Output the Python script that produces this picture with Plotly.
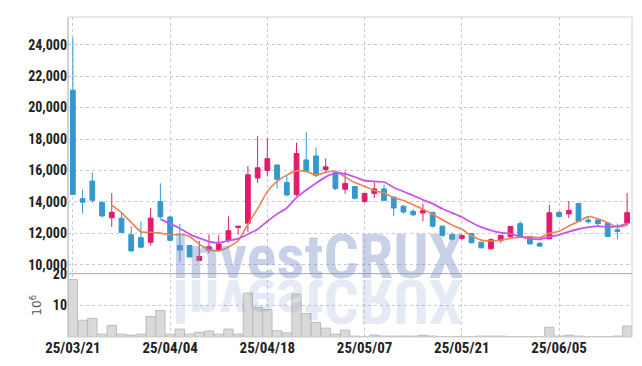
import plotly.graph_objects as go
import pandas as pd

dates = ["25/03/21","25/03/24","25/03/25","25/03/26","25/03/27","25/03/28","25/03/31","25/04/01","25/04/02","25/04/03",
         "25/04/04","25/04/07","25/04/08","25/04/09","25/04/10","25/04/11","25/04/14","25/04/15","25/04/16","25/04/17",
         "25/04/18","25/04/21","25/04/22","25/04/23","25/04/24","25/04/25","25/04/28","25/04/29","25/04/30","25/05/02",
         "25/05/07","25/05/08","25/05/09","25/05/12","25/05/13","25/05/14","25/05/15","25/05/16","25/05/19","25/05/20",
         "25/05/21","25/05/22","25/05/23","25/05/26","25/05/27","25/05/28","25/05/29","25/05/30","25/06/02","25/06/04",
         "25/06/05","25/06/09","25/06/10","25/06/11","25/06/12","25/06/13","25/06/16","25/06/17"]

opens = [21100,14210,15330,13960,12990,12970,11910,11725,11435,14020,
         13040,11230,11230,10270,10920,10900,11560,12375,12650,15520,
         16000,16350,15230,14480,16670,16920,16060,15870,14810,14980,
         14020,14540,14830,14310,13730,13400,13300,13340,12460,11920,
         11680,12000,11440,11020,11540,11790,12620,11770,11375,11650,
         13340,13240,13900,12850,12850,12660,12230,12660]
highs = [24450,14770,15870,14060,14560,13320,12450,12760,13630,15180,
         13100,12600,11270,11520,11940,11880,13080,12460,16270,18190,
         18040,16350,15690,17770,18460,17460,16770,15870,15940,14980,
         14580,15240,15090,14350,13800,13550,13900,13340,12460,12050,
         11960,12000,11460,11690,11900,12480,12790,11850,11440,13830,
         13400,14060,13900,13070,12950,12700,12620,14560]
lows = [14480,13260,13940,13010,12410,12060,10880,11060,11230,12950,
        11500,10170,10500,10270,10750,10830,11420,11920,12100,15210,
        15620,14850,14350,14370,15900,15580,15830,14750,14520,14150,
        13950,14250,14100,13100,13260,13080,12770,12370,11780,11550,
        11600,11380,11060,11020,11400,11700,11700,11310,11150,11650,
        13030,12970,12760,12620,12390,11800,11630,12500]
closes = [14480,13980,14100,13110,13340,12060,10880,11125,12970,13050,
          11560,10940,10500,10540,11150,11330,12170,12460,15730,16170,
          16750,15440,14440,17080,15960,15690,16230,14850,15170,14230,
          14540,14830,14100,13610,13360,13180,13470,12460,11880,11630,
          11860,11400,11080,11600,11880,12440,11750,11330,11190,13310,
          13070,13460,12760,12740,12620,11800,12125,13320]
volumes = [18.2,5.3,5.9,0.9,3.7,0.9,0.6,0.9,6.5,8.4,
           0.9,2.5,0.9,1.5,1.9,0.9,2.5,0.9,13.9,9.3,
           8.7,2.0,1.3,13.6,7.4,4.6,2.8,0.9,2.2,0.3,
           0.1,0.6,0.3,0.3,0.3,0.3,0.6,0.3,0.1,0.1,
           0.1,0.1,0.3,0.3,0.3,0.1,0.1,0.1,0.1,3.1,
           0.3,0.6,0.3,0.1,0.1,0.1,0.3,3.5]
tick_labels = ["25/03/21","25/04/04","25/04/18","25/05/07","25/05/21","25/06/05"]
price_ticks = [10000,12000,14000,16000,18000,20000,22000,24000]

close_s = pd.Series(closes)
ma5 = close_s.rolling(5).mean()
ma10 = close_s.rolling(10).mean()

UP = "#e31b6d"
DOWN = "#3399cc"
FONT = "Liberation Sans Narrow, Arial Narrow, Roboto Condensed, Roboto, sans-serif"
GRID = "#c6c9dc"

fig = go.Figure()
fig.add_trace(go.Bar(x=dates, y=volumes, xaxis="x2", yaxis="y2",
                     marker=dict(color="#d9d9d9", line=dict(color="#bdbdbd", width=1)),
                     hoverinfo="skip"))
fig.add_trace(go.Candlestick(x=dates, open=opens, high=highs, low=lows, close=closes,
                             xaxis="x", yaxis="y",
                             increasing=dict(line=dict(color=UP, width=1), fillcolor=UP),
                             decreasing=dict(line=dict(color=DOWN, width=1), fillcolor=DOWN),
                             whiskerwidth=0))
fig.add_trace(go.Scatter(x=dates, y=ma5, mode="lines", xaxis="x", yaxis="y",
                         line=dict(color="#ec8250", width=1.6, shape="spline", smoothing=0.5)))
fig.add_trace(go.Scatter(x=dates, y=ma10, mode="lines", xaxis="x", yaxis="y",
                         line=dict(color="#c855ec", width=1.8, shape="spline", smoothing=0.5)))

SPLIT = 0.198
fig.update_layout(
    width=642, height=366,
    margin=dict(l=68, r=10, t=9, b=29),
    paper_bgcolor="white", plot_bgcolor="white",
    showlegend=False, hovermode=False,
    bargap=0.04, boxgap=0.3,
    xaxis=dict(domain=[0, 1], anchor="y", type="category", range=[-0.5, 57.5],
               tickvals=tick_labels, showticklabels=False, showgrid=True,
               gridcolor=GRID, griddash="dot", gridwidth=1, zeroline=False,
               rangeslider=dict(visible=False), fixedrange=True),
    xaxis2=dict(domain=[0, 1], anchor="y2", type="category", range=[-0.5, 57.5],
                matches="x", tickvals=tick_labels, ticktext=tick_labels,
                showgrid=True, gridcolor=GRID, griddash="dot", gridwidth=1,
                tickangle=0, ticks="",
                tickfont=dict(family=FONT, size=15, color="#222", weight="bold")),
    yaxis=dict(domain=[SPLIT, 1], anchor="x", range=[9440, 25760],
               tickvals=price_ticks, tickformat=",d", ticks="",
               showgrid=True, gridcolor=GRID, griddash="dot", gridwidth=1, zeroline=False,
               tickfont=dict(family=FONT, size=14, color="#222", weight="bold")),
    yaxis2=dict(domain=[0, SPLIT], anchor="x2", range=[0, 20.05],
                tickvals=[10, 20], ticks="",
                showgrid=True, gridcolor=GRID, griddash="dot", gridwidth=1, zeroline=False,
                tickfont=dict(family=FONT, size=14, color="#222", weight="bold"),
                title=dict(text="10<sup>6</sup>", standoff=8,
                           font=dict(family="DejaVu Sans, sans-serif", size=12, color="#555"))),
    shapes=[
        dict(type="rect", xref="paper", yref="paper", x0=0, x1=1, y0=0, y1=1,
             line=dict(color="#d2d2d8", width=1)),
        dict(type="line", xref="paper", yref="paper", x0=0, x1=1, y0=SPLIT, y1=SPLIT,
             line=dict(color="#a8a8b0", width=1)),
        dict(type="line", xref="paper", yref="paper", x0=0, x1=0, y0=0, y1=1,
             line=dict(color="#bdbdc4", width=1)),
    ],
    annotations=[
        dict(text="InvestCRUX", xref="paper", yref="paper", x=0.443, y=SPLIT - 0.068,
             xanchor="center", yanchor="bottom", showarrow=False,
             font=dict(family=FONT, size=62, color="rgba(125,145,200,0.42)", weight="bold")),
        dict(text="InvestCRUX", xref="paper", yref="paper", x=0.443, y=SPLIT - 0.068,
             xanchor="center", yanchor="bottom", showarrow=False,
             font=dict(family=FONT, size=62, color="rgba(125,145,200,0.2)", weight="bold")),
    ],
)

post = """
var gd = document.getElementById('{plot_id}');
var a = gd.querySelector('g.annotation[data-index="1"]');
if (a) {
  var t = a.querySelector('text');
  var bb = t.getBBox();
  var Y = bb.y + bb.height * 0.81;
  t.setAttribute('transform', 'translate(0,' + (2 * Y) + ') scale(1,-1)');
}
"""
fig.write_html("out.html", post_script=post, config={"displayModeBar": False})
